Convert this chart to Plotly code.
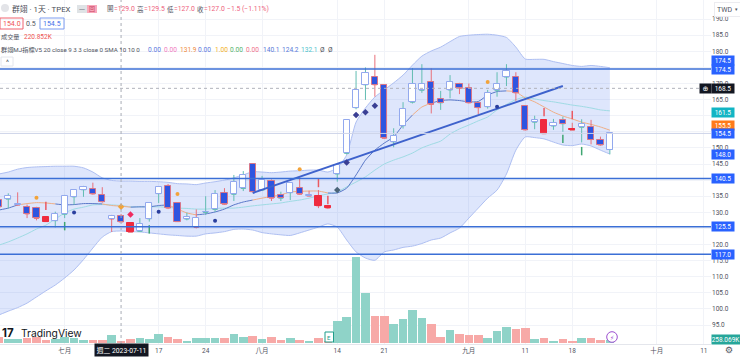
import plotly.graph_objects as go

# ---------- data ----------
idx = list(range(-7, 59))
opens = [133.8,134.1,132.5,131.7,131.2,128.5,127.4,129.4,134.8,137,137.2,135.3,128.8,129,126.6,124.1,128,135.8,138.2,132.8,127.9,128.1,130,130.9,135.9,135.6,137.4,144.9,136.9,139.8,134.4,136.1,137.4,135.3,135.1,132,141.9,148.3,162.5,169.6,171.9,169.6,151.9,156.9,164.2,167.9,170.6,164,168,170,168.5,164,162.8,167.9,172,171.9,163,158,158.6,156.8,157.5,156,156.4,156.4,152.5,149.5]
highs = [134.2,135.9,136.2,132.4,131.7,128.5,130.2,135.4,137,138.2,139.2,137.8,129.2,129.5,126.6,128.2,133,138,138.8,133.1,129.9,130.9,135,136.9,137.5,141.6,142.8,145,141.3,140.2,136.4,139.2,141,136.7,136.9,132,145,158.9,173.9,175,178.9,169.8,156.1,164.2,174.8,176,174.7,167.7,172.6,170.2,170,164.3,168,173.5,176,173.5,163.2,160,158.7,159,159.7,157.8,158.9,158.7,153.5,154.5]
lows = [131,131.2,132.1,128.2,127.5,127.1,125.3,128.2,132.3,134.8,135.5,133,123.9,127,123.8,124,127.1,132.9,131,127,127.5,125,129.2,130.1,132.3,133.5,136.6,136.2,136.6,133.5,133.5,133.8,135.4,135,131.3,131,139.5,148,162,164.9,165.9,152.8,150.2,156,163.8,167.1,160.7,161.8,165.4,166.7,163.8,160.5,162.2,165.9,169.2,164.6,155.4,155.8,154.3,155.6,155,155.5,151.7,151.1,150.7,148]
closes = [131.7,135,132.3,129.5,128.1,127.1,129.4,135,136.8,137.8,135.7,133.3,127.9,127,123.8,126.4,132.8,137.8,131.3,127.1,128.6,125.3,130.1,135.6,132.5,139.4,141.5,136.4,139.9,134.4,135.5,139,135.6,135.1,132,131.3,144.7,158.7,168.1,173.2,169.6,153,153.6,162,170,170,163.5,165.1,170.6,168.5,164,162.5,167.1,170,174,167.1,155.6,158.7,154.4,157.6,158.6,155.5,157.4,152.6,150.9,154.5]
body_kind = list("BHHBBRH" "HHHBBHB" "RHHHBBH" "HHHBHHB" "HBBHBH" "RRHHHHBB" "HHHHBB" "HBBBHHHBB" "HRHBRHBBH")

upper = [141.9,142.5,143.4,143.9,144.1,144.2,144.3,144.3,144.3,143.8,142.5,140.7,139.9,139.7,139.7,139.6,139.6,139.5,139.3,138.9,138.8,138.6,139.1,139.5,140,140.7,141.6,142.6,142.5,142.3,142.5,142.8,142.9,143.1,143.1,142.5,143.8,147.8,158,162.4,165.8,168,170.2,172.6,175.7,178.5,180.1,181.3,183,184.6,185,185.2,185.3,185,184.3,181.3,177.6,177.5,177.5,176.8,176.2,175.6,175.3,175.6,175.3,174.9]
lower = [98.1,99.3,100.4,101.8,103.7,105.6,107.4,109.6,112.1,115.3,118.9,122.3,124,124.2,124,123.9,123.6,123.3,123,122.8,122.6,122.6,123.3,123.6,124,124.7,124.8,124.5,123.7,123.3,123,122.8,123.6,124.5,125.4,126.4,125.4,121.4,117.7,115.8,115.1,117.7,118.3,119.1,119.5,120.3,121.4,122,123.6,125.1,128.2,131.3,134.4,136.9,141.9,149.3,153.4,153.2,152.8,151.8,150.9,150.7,151.2,150.6,149.3,148.1]
middle = [119.8,120.8,122,123.3,124.8,126,127.9,129.8,131,131.6,132.3,132.4,132.3,132.1,131.7,131.7,131.7,131.7,131.5,131.3,131.2,131,131,131.2,131.3,131.3,131.6,132,132.3,132.6,132.9,133.4,133.8,134.4,135.1,135.7,136.3,137.9,139.4,141,143.1,145,146.2,147.2,148.4,150,151.1,152.1,154.3,155.9,157.1,158.4,159.6,161.8,163.5,165,165.8,165.2,164.7,164.3,163.8,163.3,162.9,162.4,161.8,161.5]
sma = [130.7,131.3,132.3,132.7,133,132.9,132.6,132.3,132.4,132.7,132.7,132.6,132.1,131.9,131.6,131.7,131.7,132.1,132.3,131,129.8,129.2,129.5,130.1,131,132.3,133.2,133.8,134.4,134.9,135.4,136.3,136.5,136.6,136.6,136,136,137.5,141.6,146.2,149.3,151.5,153.4,157.1,160.2,162.7,163.9,164.7,164.9,164.7,164.3,164.4,166.4,167.5,167.7,167.4,165.5,164.3,162.7,161.1,159.9,159,158,157.3,156.5,155.5]
sma_state = "BBBOOOO" "BBBBBOO" "OBBBBOO" "OBBBBBB" "OOOOOOOO" "BBBBBBBBB" "OO" "BBBBBBBB" "OOOOOOOOOOO"
volume = [486,348,324,429,535,243,348,535,429,267,292,292,672,220.852,348,405,348,729,510,373,219,429,454,454,429,753,535,567,373,510,267,405,292,186,454,203,1806,2155,6966,4099,2236,2211,1563,1993,2673,2049,1563,535,1077,729,672,672,454,972,1320,1134,1239,348,405,211,348,186,429,454,267,258.069]
vol_dir = "pttpppt" "tttpptp" "ptttppt" "tttpttp" "tpptpt" "ppttttpp" "ttttpptp" "ppttt" "ppt" "ptpptppt"

for arr in (opens, highs, lows, closes, body_kind, upper, lower, middle, sma, sma_state, volume, vol_dir):
    assert len(arr) == len(idx), len(arr)

levels = [174.5, 140.5, 125.5, 117.0]
last_close = 154.5
last_bid = 168.5
trend_i = [20, 53]
trend_p = [136.0, 169.2]

orange_i, orange_p = [-3, 12, 25, 45], [134.5, 135.7, 143.4, 170.5]
navy_i, navy_p = [1, 10, 16, 46], [129.9, 130.2, 127.4, 162.8]
navyd_i, navyd_p = [30, 31, 32, 33], [145.5, 160.2, 161.1, 163.1]
redarrow_i, redarrow_p = [-2, 27, 28, 51, 54], [132, 139.1, 133.8, 161.1, 160.2]
greenarrow_i, greenarrow_p = [0, 9, 53, 55], [125.7, 124.7, 152.8, 149]

tick_i = [0, 10, 15, 21, 29, 34, 43, 49, 54, 63, 68]
tick_t = ["七月", "17", "24", "八月", "14", "21", "九月", "11", "18", "十月", "11"]
price_ticks = list(range(95, 195, 5))
price_hidden = [175, 165 + 0 if False else 160, 155, 140, 125]
price_text = ["" if v in price_hidden else f"{v:.1f}" for v in price_ticks]

# ---------- styling ----------
W, H, PW, PH = 740, 358, 711, 344
BLUE, TEAL_W, RED_W = "#2f55e0", "#63bdb2", "#e8707a"
FONT = "Roboto, 'Noto Sans CJK TC', sans-serif"
PRICE_RANGE = [89.1, 195.93]
fill_map = {"H": "#ffffff", "B": BLUE, "R": "#ef2b3f"}
edge_map = {"H": "#93a9ee", "B": "#d87688", "R": "#ef2b3f"}

fig = go.Figure()

fig.add_trace(go.Bar(x=idx, y=volume, width=0.92,
                     marker=dict(color=["#8fd3c8" if d == "t" else "#f7a9a7" for d in vol_dir], line_width=0),
                     yaxis="y", hoverinfo="skip"))

band_line = dict(color="#aebff2", width=1, shape="spline", smoothing=0.6)
fig.add_trace(go.Scatter(x=idx, y=upper, mode="lines", line=band_line, yaxis="y2", hoverinfo="skip"))
fig.add_trace(go.Scatter(x=idx, y=lower, mode="lines", line=band_line, yaxis="y2", fill="tonexty",
                         fillcolor="rgba(60,105,235,0.17)", hoverinfo="skip"))
fig.add_trace(go.Scatter(x=idx, y=middle, mode="lines", yaxis="y2", hoverinfo="skip",
                         line=dict(color="#9fdbe4", width=1, shape="spline", smoothing=0.5)))


def segment(state):
    out = []
    for k, p in enumerate(sma):
        on = sma_state[k] == state or (k + 1 < len(sma) and sma_state[k + 1] == state)
        out.append(p if on else None)
    return out


fig.add_trace(go.Scatter(x=idx, y=segment("B"), mode="lines", yaxis="y2", hoverinfo="skip",
                         line=dict(color="#5a78c8", width=1, shape="spline", smoothing=0.5)))
fig.add_trace(go.Scatter(x=idx, y=segment("O"), mode="lines", yaxis="y2", hoverinfo="skip",
                         line=dict(color="#efae86", width=1, shape="spline", smoothing=0.5)))

fig.add_trace(go.Candlestick(x=idx, open=opens, high=highs, low=lows, close=closes, yaxis="y3",
                             whiskerwidth=0, hoverinfo="skip",
                             increasing=dict(line=dict(color=TEAL_W, width=1), fillcolor=TEAL_W),
                             decreasing=dict(line=dict(color=RED_W, width=1), fillcolor=RED_W)))
fig.add_trace(go.Bar(x=idx, base=[min(o, c) for o, c in zip(opens, closes)],
                     y=[abs(o - c) for o, c in zip(opens, closes)], width=0.66, yaxis="y4", hoverinfo="skip",
                     marker=dict(color=[fill_map[k] for k in body_kind],
                                 line=dict(color=[edge_map[k] for k in body_kind], width=1))))

fig.add_trace(go.Scatter(x=trend_i, y=trend_p, mode="lines", yaxis="y4", hoverinfo="skip",
                         line=dict(color="#3e62cc", width=2)))


def marks(xs, ys, sym, col, size, open_line=False):
    mk = dict(symbol=sym, color=col, size=size, line_width=0)
    if open_line:
        mk = dict(symbol=sym, size=size, line=dict(color=col, width=1.5))
    fig.add_trace(go.Scatter(x=xs, y=ys, mode="markers", yaxis="y4", hoverinfo="skip", marker=mk))


marks(orange_i, orange_p, "circle", "#f2a33a", 4)
marks([6], [131.7], "diamond", "#f2a33a", 5)
marks(navy_i, navy_p, "circle", "#2a3f9e", 4)
marks(navyd_i, navyd_p, "diamond", "#3a3f94", 5)
marks([29], [136.9], "diamond", "#4b6478", 5)
marks([7], [129.3], "diamond", "#ef2b5f", 5)
marks(redarrow_i, redarrow_p, "line-ns", "#ea5a62", 6, True)
marks(greenarrow_i, greenarrow_p, "line-ns", "#3fa672", 6, True)

# ---------- shapes ----------
shapes = []
for lv in levels:
    shapes.append(dict(type="line", xref="paper", x0=0, x1=1, yref="y2", y0=lv, y1=lv,
                       line=dict(color="#3b6fd6", width=1.5)))
shapes.append(dict(type="line", xref="paper", x0=0, x1=1, yref="y2", y0=last_close, y1=last_close,
                   line=dict(color="#cdd3e8", width=1)))
shapes.append(dict(type="line", xref="paper", x0=0, x1=1, yref="y2", y0=last_bid, y1=last_bid,
                   line=dict(color="#b0b3bb", width=1, dash="3px,3px")))
shapes.append(dict(type="line", x0=6, x1=6, yref="paper", y0=0, y1=1,
                   line=dict(color="#a9acb5", width=1, dash="3px,3px")))


def px(x):
    return x / PW


def py(y):
    return 1 - y / PH


def box(x0, y0, x1, y1, line="rgba(0,0,0,0)", fill="rgba(0,0,0,0)", kind="rect", width=1):
    shapes.append(dict(type=kind, xref="paper", yref="paper", x0=px(x0), x1=px(x1), y0=py(y0), y1=py(y1),
                       line=dict(color=line, width=width), fillcolor=fill, layer="above"))


box(1, 4, 9, 12, fill="#e3e4e8", kind="circle")
box(77, 5, 87, 13, fill="#dfe3e6")
box(87, 5, 97, 13, fill="#f9a8bb")
box(0, 18, 23, 29, line="#f0626f")
box(40, 18, 64, 29, line="#7d9cf0")
box(1, 57, 13, 66, line="#e4e6ec", fill="#ffffff")
box(606.7, 331.7, 617.3, 342.3, line="#9c4fd0", fill="#ffffff", kind="circle")
box(325, 332, 333.5, 342, line="#1f9d8a", fill="#ffffff")

# ---------- text ----------
ann = []


def t(text, x, y, color="#50535e", size=7, anchor="left", family=FONT, **kw):
    ann.append(dict(text=text, xref="paper", yref="paper", x=px(x), y=py(y), xanchor=anchor, yanchor="middle",
                    showarrow=False, borderpad=kw.pop("borderpad", 0), font=dict(size=size, color=color, family=family), **kw))


t("群翊 · 1天 · TPEX", 11, 9, "#4a4d57", 7.8)
t("一", 82, 9, "#6b6f78", 6, "center")
t("回", 92, 9, "#c9405f", 6, "center")
PINK = "#ee5f7d"
t("開", 106, 9, "#50535e", 6.5); t("=129.0", 113, 9, PINK, 6.8)
t("高", 136, 9, "#50535e", 6.5); t("=129.5", 143, 9, PINK, 6.8)
t("低", 166, 9, "#50535e", 6.5); t("=127.0", 173, 9, PINK, 6.8)
t("收", 196, 9, "#50535e", 6.5); t("=127.0", 203, 9, PINK, 6.8)
t("−1.5 (−1.11%)", 226, 9, PINK, 6.8)
t("154.0", 11.5, 23.5, "#ef5350", 7, "center")
t("0.5", 31, 23.5, "#50535e", 7, "center")
t("154.5", 52, 23.5, "#3f6ee8", 7, "center")
t("成交量", 0, 37, "#50535e", 6.2)
t("220.852K", 23, 37, "#ef5350", 6.5)
t("群翊MJ指標V5 20 close 9 3 3 close 0 SMA 10 10 0", 0, 49.5, "#50535e", 6.2)
legend_vals = [("0.00", 147, "#5b78e0"), ("0.00", 163, "#f07ac0"), ("131.9", 179, "#f08c3c"), ("0.00", 197, "#5b78e0"),
               ("1.00", 214, "#f2b01e"), ("0.00", 229, "#53b26a"), ("0.00", 245, "#f0708a"), ("140.1", 262, "#5878d8"),
               ("124.2", 281, "#5878d8"), ("132.1", 300, "#4cc3cc"), ("Ø", 319, "#50535e"), ("Ø", 327, "#50535e")]
for txt, x, col in legend_vals:
    t(txt, x, 49.5, col, 6.6)
t("^", 7, 62.5, "#50535e", 7, "center")
t("TWD", 714, 9, "#50535e", 7, bgcolor="#ffffff", bordercolor="#ececf0", borderpad=2, width=24, height=9, align="left")
t("▾", 736, 9, "#50535e", 5, "center")
t("TradingView", 20, 333, "#131722", 10.3, family="Inter, Roboto, sans-serif")
t("<b>17</b>", 1, 333, "#131722", 11.5, family="Inter, Roboto, sans-serif")
t("E", 329.2, 337, "#1f9d8a", 6, "center")
t("⚡", 612, 337, "#9c4fd0", 6, "center", family="DejaVu Sans")
t("週二 2023-07-11", 121.5, 349.5, "#ffffff", 6.8, "center", bgcolor="#131722", width=53, height=12)
t("⚙", 729, 350, "#50535e", 9, "center", family="DejaVu Sans")
t("⊕", 705.5, 88.3, "#ffffff", 7, "center", family="DejaVu Sans", bgcolor="#131722", width=11, height=9)


def tag(text, y, bg, w=22):
    ann.append(dict(text=text, xref="paper", yref="paper", x=1, y=py(y), xanchor="left", yanchor="middle",
                    showarrow=False, bgcolor=bg, width=w, height=9, borderpad=0, align="center",
                    font=dict(size=6.5, color="#ffffff", family=FONT)))


def level_tag(value, bg):
    ann.append(dict(text=f"{value:.1f}", xref="paper", yref="y2", x=1, y=value, xanchor="left",
                    yanchor="middle", showarrow=False, bgcolor=bg, width=22, height=9, borderpad=0,
                    align="center", font=dict(size=6.5, color="#ffffff", family=FONT)))


tag("174.5", 61, "#2962ff")
for lv in levels:
    level_tag(lv, "#2962ff")
level_tag(last_bid, "#131722")
tag("161.5", 112, "#12b5c4")
tag("155.5", 125, "#ff7a1a")
level_tag(last_close, "#2962ff")
level_tag(148.0, "#2962ff")
tag("258.069K", 339.5, "#26a69a", 28)

hidden_axis = dict(range=PRICE_RANGE, overlaying="y", visible=False, fixedrange=True)
fig.update_layout(
    width=W, height=H, margin=dict(l=0, r=W - PW, t=0, b=H - PH), showlegend=False,
    paper_bgcolor="#ffffff", plot_bgcolor="#ffffff", barmode="overlay", bargap=0,
    shapes=shapes, annotations=ann, font=dict(family=FONT, size=7, color="#50535e"),
    xaxis=dict(range=[-6.88, 68.76], tickmode="array", tickvals=tick_i, ticktext=tick_t, showgrid=True,
               gridcolor="#f1f3f8", gridwidth=1, zeroline=False, showline=True, linecolor="#e4e6ec",
               ticks="", tickfont=dict(size=6.5, color="#50535e"), rangeslider=dict(visible=False)),
    yaxis=dict(range=[-57, 27806], visible=False, fixedrange=True),
    yaxis2=dict(range=PRICE_RANGE, overlaying="y", side="right", tickmode="array", tickvals=price_ticks,
                ticktext=price_text, showgrid=True, gridcolor="#f1f3f8", zeroline=False, ticks="",
                tickfont=dict(size=6.5, color="#50535e"), showline=False),
    yaxis3=hidden_axis,
    yaxis4=hidden_axis,
)

fig.write_html("out.html", config=dict(displayModeBar=False),
               post_script="document.body.style.margin='0';document.body.style.overflow='hidden';")
